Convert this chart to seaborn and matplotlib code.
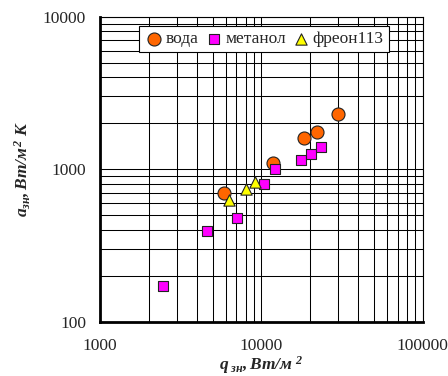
import pandas as pd
import seaborn as sns
import matplotlib.pyplot as plt
from matplotlib.ticker import LogLocator, FuncFormatter, NullFormatter

# Data
water_q = [5870, 11770, 18480, 22240, 30020]
water_a = [701, 1093, 1609, 1762, 2291]
methanol_q = [2470, 4625, 7070, 10390, 12160, 17620, 20420, 23350]
methanol_a = [171, 391, 481, 796, 1003, 1154, 1264, 1404]
freon_q = [6335, 8075, 9180]
freon_a = [628, 738, 824]

FLUIDS = ['вода', 'метанол', 'фреон113']

df = pd.concat([
    pd.DataFrame({'q': water_q, 'a': water_a, 'fluid': FLUIDS[0]}),
    pd.DataFrame({'q': methanol_q, 'a': methanol_a, 'fluid': FLUIDS[1]}),
    pd.DataFrame({'q': freon_q, 'a': freon_a, 'fluid': FLUIDS[2]}),
])

sns.set_style('white')
plt.rcParams['font.family'] = ['Liberation Serif', 'DejaVu Serif']
plt.rcParams['mathtext.fontset'] = 'custom'
plt.rcParams['mathtext.rm'] = 'Liberation Serif:italic:bold'
plt.rcParams['mathtext.it'] = 'Liberation Serif:italic:bold'
plt.rcParams['mathtext.bf'] = 'Liberation Serif:italic:bold'

fig = plt.figure(figsize=(4.48, 3.76), dpi=100)
ax = fig.add_axes([0.2232, 0.1444, 0.7203, 0.8112])

palette = {'вода': '#FF6600', 'метанол': '#FF00FF', 'фреон113': '#FFFF00'}
markers = {'вода': 'o', 'метанол': 's', 'фреон113': '^'}
sizes = {'вода': 88, 'метанол': 56, 'фреон113': 66}

for fl in FLUIDS:
    sns.scatterplot(data=df[df.fluid == fl], x='q', y='a', ax=ax,
                    color=palette[fl], marker=markers[fl], s=sizes[fl],
                    edgecolor='#222222', linewidth=0.8, label=fl, zorder=3)

ax.set_xscale('log')
ax.set_yscale('log')
ax.set_xlim(1000, 100000)
ax.set_ylim(100, 10000)

for axis in (ax.xaxis, ax.yaxis):
    axis.set_major_locator(LogLocator(base=10))
    axis.set_minor_locator(LogLocator(base=10, subs=range(2, 10)))
    axis.set_major_formatter(FuncFormatter(lambda v, p: '%d' % round(v)))
    axis.set_minor_formatter(NullFormatter())

ax.grid(True, which='both', color='black', linewidth=0.75)
ax.set_axisbelow(True)
ax.tick_params(which='both', length=0, labelsize=12.5)
ax.tick_params(axis='x', pad=12)
ax.tick_params(axis='y', pad=10)

for side in ['left', 'bottom']:
    ax.spines[side].set_linewidth(2.0)
    ax.spines[side].set_color('black')
for side in ['top', 'right']:
    ax.spines[side].set_linewidth(0.8)
    ax.spines[side].set_color('black')

ax.set_xlabel(r'$q_{\ зн},Вт/м^{\ 2}$', fontsize=12.5, labelpad=0)
ax.set_ylabel(r'$a_{зн},Вт/м^{2}\ К$', fontsize=12.5, labelpad=8)

leg = ax.legend(loc='upper left', bbox_to_anchor=(0.122, 0.970), ncol=3,
                frameon=True, fancybox=False, edgecolor='black', framealpha=1,
                fontsize=12.5, handletextpad=0.1, columnspacing=0.35,
                borderpad=0.3, handlelength=1.1, borderaxespad=0)
leg.get_frame().set_linewidth(0.8)

plt.savefig('out.png', dpi=100)
